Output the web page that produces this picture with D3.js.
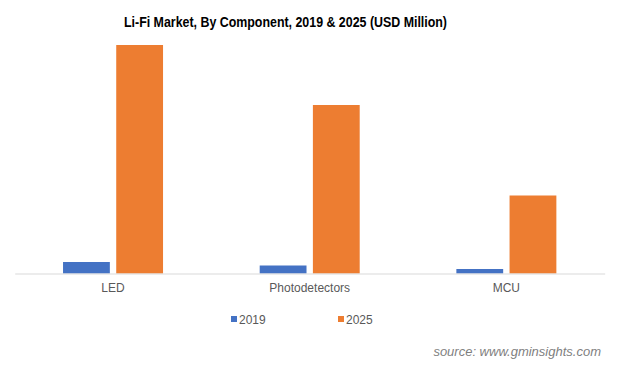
<!DOCTYPE html>
<html><head><meta charset="utf-8">
<script src="https://cdn.jsdelivr.net/npm/d3@7"></script>
<style>body{margin:0;background:#fff}svg{display:block}</style>
</head><body>
<script>
const categories = ["LED", "Photodetectors", "MCU"];
const seriesNames = ["2019", "2025"];
const values2019 = [11.5, 8, 4.5];
const values2025 = [228.5, 168.5, 78];
const colors = ["#4472C4", "#ED7D31"];
const title = "Li-Fi Market, By Component, 2019 & 2025 (USD Million)";
const source = "source: www.gminsights.com";

const W = 619, H = 368;
const svg = d3.select("body").append("svg").attr("width", W).attr("height", H);
const font = "Arial, 'Liberation Sans', sans-serif";

const x0 = d3.scaleBand().domain(categories).range([14.7, 604.7]);
const x1 = d3.scaleBand().domain(seriesNames).range([0, 100]).paddingInner(0.12);
const y = d3.scaleLinear().domain([0, 250]).range([273.5, 23.5]);

const data = categories.map((c, i) => ({cat: c, vals: [values2019[i], values2025[i]]}));

const g = svg.append("g");
g.selectAll("g.cat").data(data).join("g")
  .attr("transform", d => `translate(${x0(d.cat) + x0.bandwidth()/2 - 50},0)`)
  .selectAll("rect").data(d => d.vals.map((v, k) => ({s: seriesNames[k], v, k})))
  .join("rect")
  .attr("x", d => x1(d.s)).attr("width", x1.bandwidth())
  .attr("y", d => y(d.v)).attr("height", d => y(0) - y(d.v))
  .attr("fill", d => colors[d.k]);

const axis = d3.axisBottom(x0).tickSize(0).tickPadding(10);
const ax = svg.append("g").attr("transform", `translate(0,${y(0)})`).call(axis);
ax.select(".domain").attr("stroke", "#d9d9d9").attr("stroke-width", 1);
ax.selectAll("text").attr("font-family", font).attr("font-size", 12).attr("fill", "#595959");

svg.append("text").attr("x", 285.5).attr("y", 27).attr("text-anchor", "middle")
  .attr("font-family", font).attr("font-weight", "bold").attr("font-size", 14)
  .attr("fill", "#000").attr("textLength", 323).attr("lengthAdjust", "spacingAndGlyphs")
  .text(title);

const legX = [231, 338];
const leg = svg.append("g");
seriesNames.forEach((s, k) => {
  leg.append("rect").attr("x", legX[k]).attr("y", 316).attr("width", 6).attr("height", 6).attr("fill", colors[k]);
  leg.append("text").attr("x", legX[k] + 8).attr("y", 323.5)
    .attr("font-family", font).attr("font-size", 12).attr("fill", "#595959").text(s);
});

svg.append("text").attr("x", 601).attr("y", 356).attr("text-anchor", "end")
  .attr("font-family", font).attr("font-style", "italic").attr("font-size", 13)
  .attr("fill", "#7f7f7f").text(source);
</script>
</body></html>
